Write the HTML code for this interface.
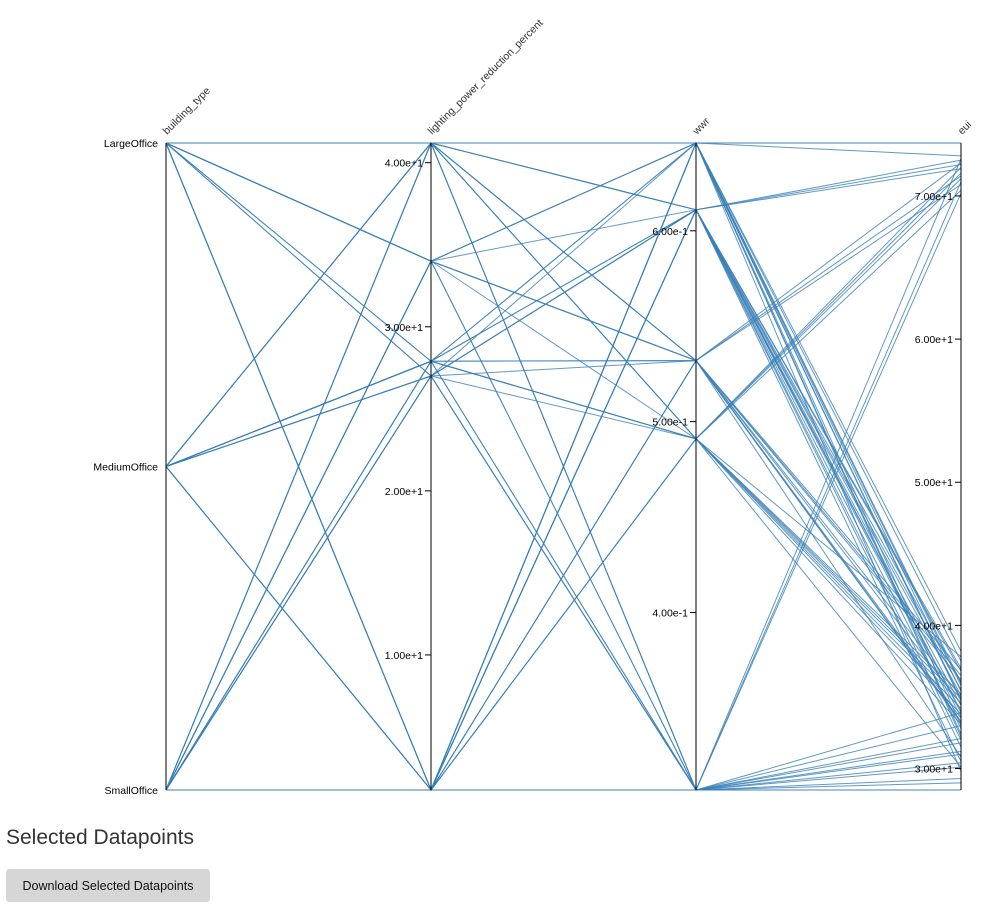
<!DOCTYPE html>
<html><head><meta charset="utf-8">
<style>
body{margin:0;background:#fff;font-family:"Liberation Sans",sans-serif;width:997px;height:915px;overflow:hidden;position:relative}
svg{position:absolute;left:0;top:0}
h3{position:absolute;left:6px;top:826px;margin:0;font-weight:normal;font-size:21px;color:#333}
button{position:absolute;left:6px;top:869px;width:204px;height:33px;border:none;border-radius:3px;background:#d6d6d6;font-family:"Liberation Sans",sans-serif;font-size:12.5px;color:#111}
</style></head><body>
<svg id="chart" width="997" height="820"></svg>
<h3>Selected Datapoints</h3>
<button>Download Selected Datapoints</button>
<script>
const dimensions = ["building_type","lighting_power_reduction_percent","wwr","eui"];
const buildingTypes = ["LargeOffice","MediumOffice","SmallOffice"];
const lprTicks = [10,20,30,40];
const wwrTicks = [0.4,0.5,0.6];
const euiTicks = [30,40,50,60,70];
const bt = ["LargeOffice","LargeOffice","LargeOffice","LargeOffice","LargeOffice","LargeOffice","LargeOffice","LargeOffice","LargeOffice","LargeOffice","LargeOffice","LargeOffice",
"MediumOffice","MediumOffice","MediumOffice","MediumOffice","MediumOffice","MediumOffice","MediumOffice","MediumOffice","MediumOffice","MediumOffice","MediumOffice",
"SmallOffice","SmallOffice","SmallOffice","SmallOffice","SmallOffice","SmallOffice","SmallOffice","SmallOffice","SmallOffice","SmallOffice","SmallOffice","SmallOffice","SmallOffice","SmallOffice","SmallOffice","SmallOffice","SmallOffice","SmallOffice",
"LargeOffice","LargeOffice","LargeOffice","MediumOffice","MediumOffice","MediumOffice","SmallOffice","SmallOffice","SmallOffice","SmallOffice","LargeOffice","MediumOffice","SmallOffice","SmallOffice","LargeOffice","MediumOffice","SmallOffice","SmallOffice",
"LargeOffice","MediumOffice","SmallOffice","LargeOffice","SmallOffice","MediumOffice","LargeOffice","SmallOffice","MediumOffice","SmallOffice"];
const lpr = [41.2,41.2,34,34,27.9,27.9,27,1.77,1.77,1.77,41.2,34,
41.2,41.2,27.9,27.9,27,27,1.77,1.77,27.9,1.77,41.2,
41.2,41.2,34,34,27.9,27.9,27,27,1.77,1.77,1.77,1.77,1.77,1.77,41.2,34,27,1.77,
41.2,34,1.77,27.9,27,1.77,1.77,27.9,34,1.77,27,41.2,1.77,27,1.77,27.9,41.2,1.77,
41.2,27.9,1.77,34,1.77,27,41.2,1.77,27.9,34];
const wwr = [0.646,0.611,0.532,0.491,0.611,0.307,0.491,0.646,0.532,0.307,0.491,0.307,
0.532,0.307,0.646,0.491,0.611,0.307,0.611,0.646,0.532,0.491,0.611,
0.307,0.532,0.646,0.307,0.491,0.307,0.611,0.532,0.307,0.307,0.611,0.646,0.491,0.532,0.491,0.611,0.307,0.307,
0.646,0.646,0.646,0.611,0.611,0.611,0.532,0.491,0.532,0.491,0.307,0.307,0.307,0.646,0.611,0.532,0.491,0.646,
0.611,0.646,0.611,0.532,0.646,0.611,0.532,0.611,0.491,0.646];
const eui = [73.7,72.2,33.5,34.2,72.5,29.3,71.6,35.4,36.2,33.0,33.8,32.1,
70.8,33.9,36.0,72.0,71.9,31.2,35.1,72.8,33.3,71.2,37.0,
28.5,71.4,34.7,30.1,34.9,31.0,35.5,72.3,28.5,29.0,34.4,35.8,70.4,36.5,34.6,33.6,71.0,30.4,
38.2,32.4,37.5,34.0,36.8,32.8,34.5,37.8,30.8,33.1,70.2,72.6,31.8,32.2,33.9,35.0,30.1,74.0,
31.5,33.0,30.5,36.9,29.8,36.0,33.2,32.0,35.2,34.8];
const svg=document.getElementById('chart');
const NS="http://www.w3.org/2000/svg";
const X=[166,431,696,961], TOP=143, BOT=790;
const yBt=v=>TOP+buildingTypes.indexOf(v)*(BOT-TOP)/2;
const lin=(d0,d1)=>v=>BOT-(v-d0)/(d1-d0)*(BOT-TOP);
const yL=lin(1.77,41.2), yW=lin(0.307,0.646), yE=lin(28.5,73.7);
function mk(t,a){const e=document.createElementNS(NS,t);for(const k in a)e.setAttribute(k,a[k]);svg.appendChild(e);return e;}
for(let i=0;i<bt.length;i++){
 const pts=[[X[0],yBt(bt[i])],[X[1],yL(lpr[i])],[X[2],yW(wwr[i])],[X[3],Math.max(TOP,yE(eui[i]))]];
 const p=mk('polyline',{points:pts.map(p=>p.join(',')).join(' '),fill:'none',stroke:'#3a7fb8','stroke-width':1,'stroke-opacity':0.8});
 
 
}
function axis(idx,name,ticks,scale,fmt,tickMarks){
 const x=X[idx];
 const l=mk('line',{x1:x,y1:TOP,x2:x,y2:BOT,stroke:'#000','stroke-width':1});
 
 
 ticks.forEach(v=>{
  const y=scale(v);
  if(tickMarks){
   const tk=mk('line',{x1:x-6,y1:y,x2:x,y2:y,stroke:'#000'});
   
   
  }
  const t=mk('text',{x:x-8,y:y+4,'text-anchor':'end','font-size':10.5,fill:'#000'});
  t.textContent=fmt(v);
  
  
 });
 const tt=mk('text',{x:x+1,y:TOP-8,'font-size':10.5,fill:'#333',transform:`rotate(-45 ${x+1} ${TOP-8})`});
 tt.textContent=name;
 
 
}
axis(0,dimensions[0],buildingTypes,yBt,v=>v,false);
axis(1,dimensions[1],lprTicks,yL,v=>v.toExponential(2),true);
axis(2,dimensions[2],wwrTicks,yW,v=>v.toExponential(2),true);
axis(3,dimensions[3],euiTicks,yE,v=>v.toExponential(2),true);
</script>
</body></html>
